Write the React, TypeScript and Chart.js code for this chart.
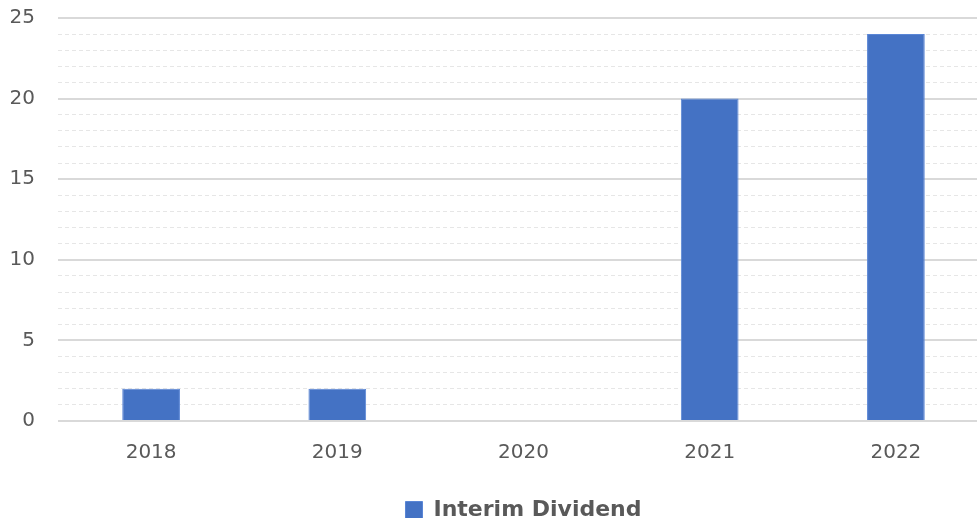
import React, { useEffect, useRef } from "react";
import { Chart, registerables } from "chart.js";

Chart.register(...registerables);

const categories = ["2018", "2019", "2020", "2021", "2022"];
const interimDividend = [2, 2, 0, 20, 24];
const seriesLabel = "Interim Dividend";
const yMin = 0;
const yMax = 25;
const yStep = 1;
const yLabelEvery = 5;

const FONT = "'DejaVu Sans', Verdana, sans-serif";

export default function App() {
  const ref = useRef<HTMLCanvasElement | null>(null);

  useEffect(() => {
    document.body.style.margin = "0";
    if (!ref.current) return;
    const chart = new Chart(ref.current, {
      type: "bar",
      data: {
        labels: categories,
        datasets: [
          {
            label: seriesLabel,
            data: interimDividend,
            backgroundColor: "#4472C4",
            borderColor: "#5a86d6",
            borderWidth: 1,
            categoryPercentage: 1,
            barPercentage: 0.31,
          },
        ],
      },
      options: {
        animation: false,
        responsive: false,
        devicePixelRatio: 1,
        layout: { padding: { top: 1, left: 10, right: 1, bottom: 0 } },
        plugins: {
          tooltip: { enabled: false },
          legend: {
            position: "bottom",
            fullSize: false,
            labels: {
              color: "#595959",
              font: { family: FONT, size: 22, weight: "bold" },
              boxWidth: 17,
              boxHeight: 17,
              padding: 4,
            },
          },
        },
        scales: {
          x: {
            grid: { display: false, drawTicks: false },
            border: { display: false },
            ticks: {
              color: "#595959",
              font: { family: FONT, size: 20 },
              padding: 20,
            },
            afterFit: (scale: any) => {
              scale.height = 74;
            },
          },
          y: {
            min: yMin,
            max: yMax,
            grid: {
              drawTicks: false,
              color: (ctx: any) =>
                ctx.tick && ctx.tick.value % yLabelEvery === 0 ? "#d9d9d9" : "#e6e6e6",
              lineWidth: (ctx: any) =>
                ctx.tick && ctx.tick.value % yLabelEvery === 0 ? 2 : 1,
            },
            border: {
              display: false,
              dash: (ctx: any) =>
                ctx.tick && ctx.tick.value % yLabelEvery === 0 ? [] : [4, 3],
            },
            ticks: {
              stepSize: yStep,
              autoSkip: false,
              color: "#595959",
              font: { family: FONT, size: 20 },
              padding: 23,
              callback: (v: any) => (Number(v) % yLabelEvery === 0 ? String(v) : ""),
            },
            afterFit: (scale: any) => {
              scale.width = 48;
            },
          },
        },
      },
    });
    return () => chart.destroy();
  }, []);

  return (
    <div style={{ width: 977, height: 518, overflow: "hidden", background: "#fff" }}>
      <canvas
        ref={ref}
        width={990}
        height={548}
        style={{ display: "block", marginTop: -17 }}
      />
    </div>
  );
}
